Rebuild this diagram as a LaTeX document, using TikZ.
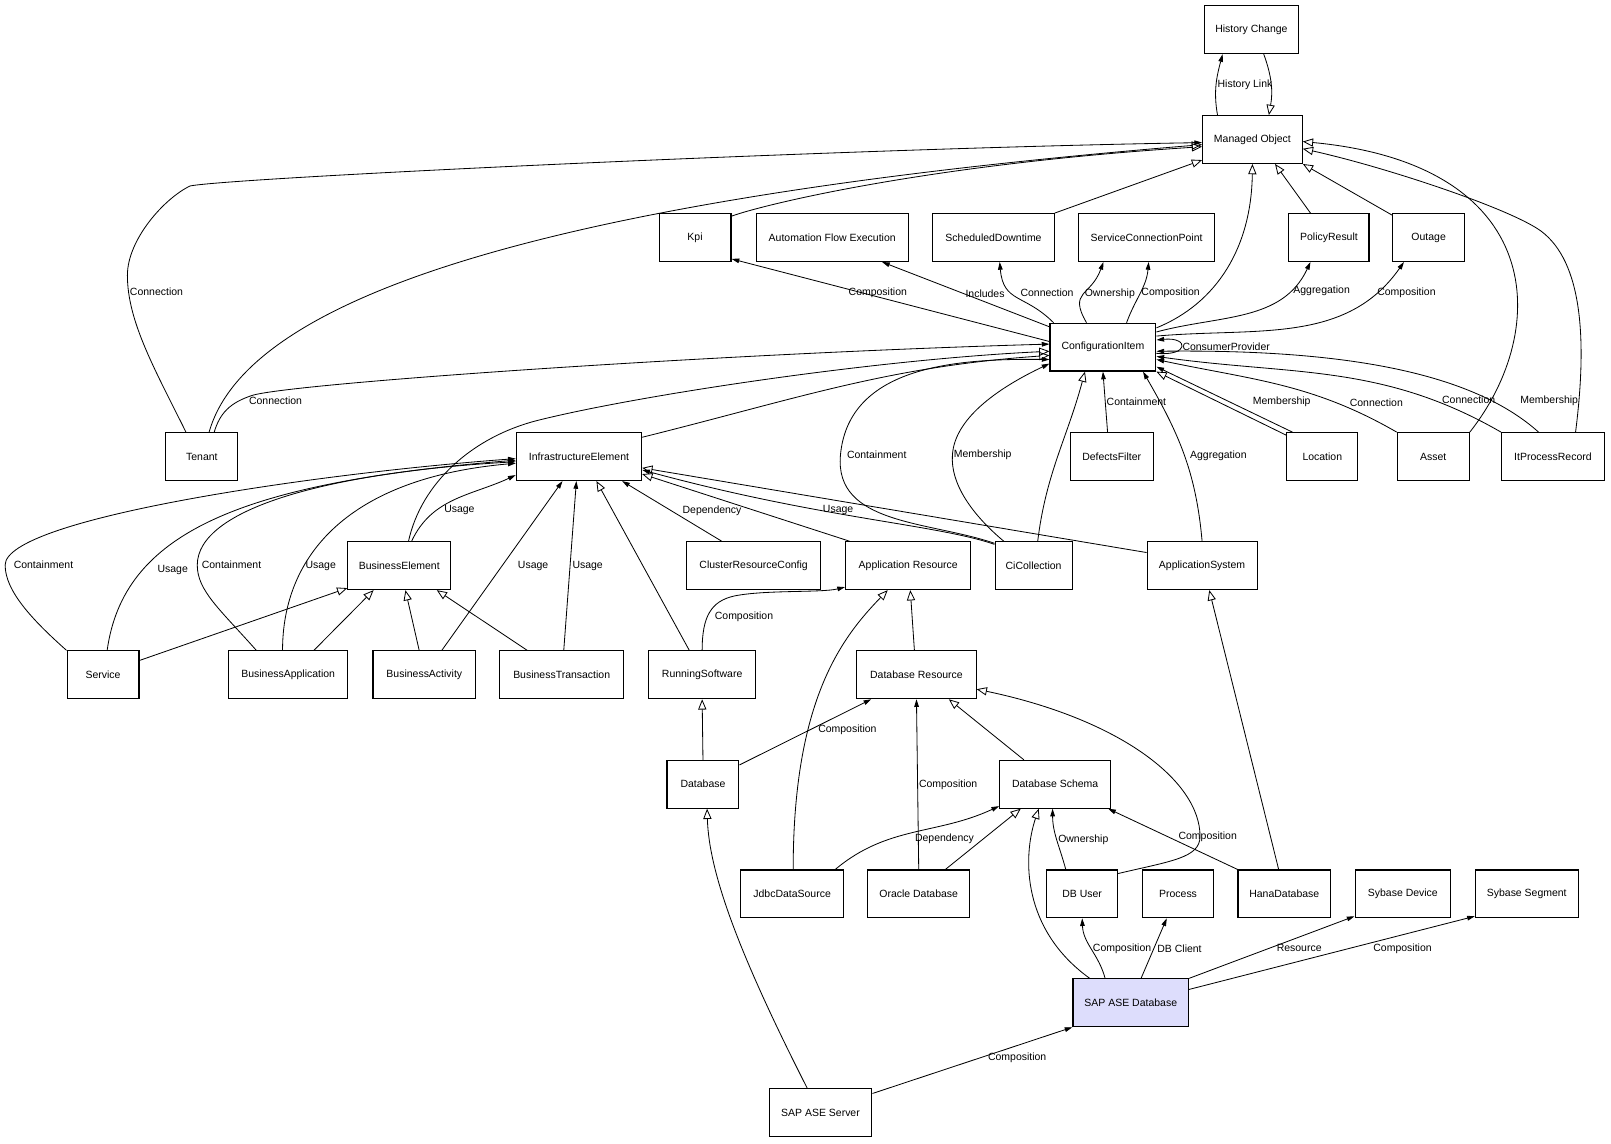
\documentclass[tikz,border=0pt]{standalone}
\usepackage{fontspec}
\setmainfont{Liberation Sans}
\usetikzlibrary{arrows.meta}
\definecolor{sadfill}{RGB}{221,221,252}
\begin{document}
\begin{tikzpicture}[x=1pt,y=1pt,
  cls/.style={draw,line width=1.1pt,minimum height=46.5pt,inner sep=1pt,font=\fontsize{10.2}{12}\selectfont},
  gen/.style={line width=0.8pt,-{Triangle[open,length=10pt,width=8pt]}},
  rel/.style={line width=0.8pt,-{Triangle[length=7.5pt,width=4.5pt]}},
  lbl/.style={font=\fontsize{10.2}{12}\selectfont,inner sep=1pt}]
\useasboundingbox (0,0) rectangle (1568,-1112.5);

\node[cls,minimum width=92pt] (hc) at (1218,-28.9) {History Change};
\node[cls,minimum width=97pt] (mo) at (1219,-135.8) {Managed Object};
\node[cls,minimum width=70pt] (kpi) at (676.5,-231.2) {Kpi};
\node[cls,minimum width=148pt] (afe) at (810,-231.2) {Automation Flow Execution};
\node[cls,minimum width=118pt] (sd) at (967,-231.2) {ScheduledDowntime};
\node[cls,minimum width=132pt] (scp) at (1116,-231.2) {ServiceConnectionPoint};
\node[cls,minimum width=78pt] (pr) at (1293.5,-231.2) {PolicyResult};
\node[cls,minimum width=70pt] (outage) at (1390.5,-231.2) {Outage};
\node[cls,minimum width=103pt] (ci) at (1073.5,-337.9) {ConfigurationItem};
\node[cls,minimum width=70pt] (tenant) at (196.5,-444.4) {Tenant};
\node[cls,minimum width=122pt] (ie) at (563.5,-444.4) {InfrastructureElement};
\node[cls,minimum width=81pt] (df) at (1082,-444.4) {DefectsFilter};
\node[cls,minimum width=69pt] (loc) at (1287,-444.4) {Location};
\node[cls,minimum width=70pt] (asset) at (1395,-444.4) {Asset};
\node[cls,minimum width=100pt] (ipr) at (1511.5,-444.4) {ItProcessRecord};
\node[cls,minimum width=100pt] (be) at (388.6,-550.6) {BusinessElement};
\node[cls,minimum width=131pt] (crc) at (733.5,-550.6) {ClusterResourceConfig};
\node[cls,minimum width=122pt] (ar) at (884,-550.6) {Application Resource};
\node[cls,minimum width=75pt] (cic) at (1006,-550.6) {CiCollection};
\node[cls,minimum width=107pt] (as) at (1170,-550.6) {ApplicationSystem};
\node[cls,minimum width=70pt] (svc) at (100.3,-656.8) {Service};
\node[cls,minimum width=116pt] (ba) at (280.5,-656.8) {BusinessApplication};
\node[cls,minimum width=100pt] (bac) at (413,-656.8) {BusinessActivity};
\node[cls,minimum width=121pt] (bt) at (546.7,-656.8) {BusinessTransaction};
\node[cls,minimum width=104pt] (rs) at (683.4,-656.8) {RunningSoftware};
\node[cls,minimum width=116pt] (dr) at (892,-656.8) {Database Resource};
\node[cls,minimum width=70pt] (db) at (684.2,-763.3) {Database};
\node[cls,minimum width=108pt] (ds) at (1027,-763.3) {Database Schema};
\node[cls,minimum width=100pt] (jds) at (771,-870) {JdbcDataSource};
\node[cls,minimum width=99pt] (od) at (894.2,-870) {Oracle Database};
\node[cls,minimum width=69pt] (dbu) at (1053.3,-870) {DB User};
\node[cls,minimum width=69pt] (proc) at (1146.6,-870) {Process};
\node[cls,minimum width=90pt] (hd) at (1250,-870) {HanaDatabase};
\node[cls,minimum width=93pt] (sdev) at (1365.4,-870) {Sybase Device};
\node[cls,minimum width=100pt] (sseg) at (1486,-870) {Sybase Segment};
\node[cls,minimum width=112.5pt,fill=sadfill] (sad) at (1100.6,-976) {SAP ASE Database};
\node[cls,minimum width=100pt] (sas) at (798.6,-1082.8) {SAP ASE Server};

\draw[rel] ([xshift=-34pt]mo.north) to[out=100,in=-105] node[lbl,anchor=west]{History Link} ([xshift=-28pt]hc.south);
\draw[gen] ([xshift=12pt]hc.south) to[out=-70,in=80] ([xshift=16pt]mo.north);
\draw[rel] ([xshift=-15.5pt]tenant.north) .. controls (151,-360) and (124,-313) .. (124,-268) node[lbl,anchor=west,pos=0.88]{Connection} .. controls (124,-233) and (160,-193) .. (185,-181) .. controls (225,-173) and (820,-144.5) .. ([yshift=-3pt]mo.west);
\draw[gen] ([xshift=7pt]tenant.north) .. controls (235,-310) and (450,-200) .. ([yshift=-5pt]mo.west);
\draw[gen] ([yshift=-3pt]kpi.north east) .. controls (740,-200) and (900,-160) .. ([yshift=-7pt]mo.west);
\draw[gen] (sd.north east) -- ([yshift=-20pt]mo.west);
\draw[gen] ([yshift=-5pt]ci.north east) .. controls (1185,-295) and (1218,-240) .. (mo.south);
\draw[gen] ([xshift=-18pt]pr.north) -- ([xshift=22pt]mo.south);
\draw[gen] ([yshift=-2pt]outage.north west) -- (mo.south east);
\draw[gen] (asset.north east) .. controls (1510,-320) and (1505,-160) .. ([yshift=-2pt]mo.east);
\draw[gen] ([xshift=22pt]ipr.north) .. controls (1545,-330) and (1540,-255) .. (1500,-225) .. controls (1470,-203) and (1348,-162.5) .. ([yshift=-9pt]mo.east);

\draw[rel] ([yshift=5.5pt]ci.west) -- node[lbl,pos=0.54,anchor=south,yshift=-2pt]{Composition} ([yshift=3pt]kpi.south east);
\draw[rel] ([yshift=-4pt]ci.north west) -- node[lbl,pos=0.51,anchor=west]{Includes} ([xshift=48.5pt]afe.south);
\draw[rel] ([xshift=4pt]ci.north west) to[out=135,in=-85,looseness=1.3] node[lbl,anchor=west,xshift=2pt,yshift=4pt]{Connection} ([xshift=6pt]sd.south);
\draw[rel] ([xshift=-16pt]ci.north) to[out=120,in=-110,looseness=1.5] node[lbl,anchor=west]{Ownership} ([xshift=-42pt]scp.south);
\draw[rel] ([xshift=23pt]ci.north) to[out=70,in=-95] node[lbl,anchor=west]{Composition} ([xshift=2pt]scp.south);
\draw[rel] ([yshift=-9pt]ci.north east) to[out=15,in=-115] node[lbl,anchor=west,pos=0.8,xshift=2pt]{Aggregation} ([xshift=-18pt]pr.south);
\draw[rel] ([yshift=-13pt]ci.north east) to[out=5,in=-125] node[lbl,anchor=west,pos=0.85]{Composition} ([xshift=-24pt]outage.south);
\draw[rel] ([yshift=-6pt]ci.east) .. controls +(32,-3) and +(32,3) .. ([yshift=7pt]ci.east) node[lbl,anchor=west,pos=0.5]{ConsumerProvider};

\draw[rel] ([xshift=12pt]tenant.north) .. controls (214,-402) and (224,-392) .. (245,-385) node[lbl,anchor=west,xshift=-4pt,yshift=-5pt]{Connection} .. controls (280,-373.3) and (700,-344) .. ([yshift=3pt]ci.west);
\draw[gen] ([xshift=9pt]be.north) .. controls (410,-470) and (460,-425) .. (524,-409) .. controls (620,-385) and (850,-350) .. ([yshift=-4pt]ci.west);
\draw[gen] ([yshift=-5pt]ie.north east) to[out=14,in=184] ([yshift=-8pt]ci.west);
\draw[rel] ([yshift=-2pt]cic.north west) .. controls (904,-507) and (812,-511) .. (818,-443) node[lbl,anchor=west,xshift=5pt]{Containment} .. controls (826,-355) and (934,-349) .. ([yshift=-12pt]ci.west);
\draw[rel] ([xshift=-29pt]cic.north) .. controls (945,-500) and (925,-470) .. (927,-443) node[lbl,anchor=west]{Membership} .. controls (929,-405) and (977,-375) .. ([yshift=-16pt]ci.west);
\draw[gen] ([xshift=4pt]cic.north) to[out=83,in=-105] ([xshift=-17.5pt]ci.south);
\draw[rel] ([xshift=-4pt]df.north) -- node[lbl,anchor=west]{Containment} (ci.south);
\draw[rel] (as.north) to[out=95,in=-60] node[lbl,anchor=west,pos=0.48,xshift=4pt]{Aggregation} ([xshift=39pt]ci.south);
\draw[gen] ([yshift=-3pt]loc.north west) -- (ci.south east);
\draw[rel] ([xshift=6pt]loc.north west) -- node[lbl,anchor=west,pos=0.46,xshift=21pt]{Membership} ([yshift=-19pt]ci.east);
\draw[rel] (asset.north west) to[out=150,in=-12] node[lbl,anchor=south west,pos=0.2]{Connection} ([yshift=-12pt]ci.east);
\draw[rel] (ipr.north west) to[out=150,in=-8] node[lbl,anchor=west,pos=0.2,xshift=8pt]{Connection} ([yshift=-9pt]ci.east);
\draw[rel] ([xshift=-14pt]ipr.north) .. controls (1430,-360) and (1300,-340) .. ([yshift=-4pt]ci.east) node[lbl,anchor=west,pos=0.16,xshift=18pt,yshift=4pt]{Membership};

\draw[rel] (svc.north west) .. controls (31,-603) and (5,-575) .. (5,-550) node[lbl,anchor=west,xshift=7pt]{Containment} .. controls (5,-505) and (303,-461) .. ([yshift=-2pt]ie.west);
\draw[rel] ([xshift=4pt]svc.north) .. controls (120,-520) and (230,-470) .. ([yshift=-3.5pt]ie.west) node[lbl,anchor=west,pos=0.27,xshift=13pt]{Usage};
\draw[rel] ([xshift=-31pt]ba.north) .. controls (214,-593) and (192,-575) .. (192,-550) node[lbl,anchor=west,xshift=3pt]{Containment} .. controls (192,-495) and (320,-460) .. ([yshift=-5pt]ie.west);
\draw[rel] ([xshift=-5.5pt]ba.north) .. controls (275,-540) and (340,-465) .. ([yshift=-6.5pt]ie.west) node[lbl,anchor=west,pos=0.32]{Usage};
\draw[rel] ([xshift=12pt]be.north) to[out=65,in=205] node[lbl,anchor=west,pos=0.32,xshift=6pt]{Usage} ([yshift=-18pt]ie.west);
\draw[rel] ([xshift=17pt]bac.north) -- node[lbl,anchor=west,xshift=14pt]{Usage} ([xshift=-16pt]ie.south);
\draw[rel] ([xshift=2pt]bt.north) -- node[lbl,anchor=west,xshift=1pt]{Usage} ([xshift=-2.5pt]ie.south);
\draw[gen] ([xshift=-12.5pt]rs.north) -- ([xshift=17pt]ie.south);
\draw[rel] ([xshift=-31pt]crc.north) -- node[lbl,anchor=west,xshift=9pt]{Dependency} ([xshift=42pt]ie.south);
\draw[gen] ([xshift=-57pt]ar.north) -- ([yshift=-17pt]ie.east);
\draw[rel] ([yshift=-3pt]cic.north west) .. controls (910,-510) and (800,-505) .. ([yshift=-13pt]ie.east) node[lbl,anchor=south,pos=0.57,yshift=-3pt]{Usage};
\draw[gen] ([yshift=-11pt]as.north west) -- ([yshift=-11pt]ie.east);

\draw[gen] ([yshift=14pt]svc.east) -- ([yshift=2pt]be.south west);
\draw[gen] ([xshift=25pt]ba.north) -- ([xshift=-25pt]be.south);
\draw[gen] ([xshift=-5pt]bac.north) -- ([xshift=6pt]be.south);
\draw[gen] ([xshift=-33.5pt]bt.north) -- ([xshift=36.5pt]be.south);

\draw[rel] (rs.north) .. controls (683.4,-600) and (692,-585) .. (715,-580) node[lbl,anchor=west,pos=0.42,xshift=6pt]{Composition} .. controls (745,-574) and (800,-577) .. ([yshift=3pt]ar.south west);
\draw[gen] ([xshift=-2pt]dr.north) -- ([xshift=2pt]ar.south);
\draw[gen] ([xshift=1pt]jds.north) .. controls (772,-680) and (820,-620) .. ([xshift=-20pt]ar.south);
\draw[gen] (db.north) -- (rs.south);
\draw[rel] ([yshift=-5pt]db.north east) -- node[lbl,anchor=west,pos=0.54,xshift=6pt]{Composition} ([xshift=-44pt]dr.south);
\draw[rel] (od.north) -- node[lbl,anchor=west]{Composition} (dr.south);
\draw[gen] ([xshift=-30.5pt]ds.north) -- ([xshift=31.5pt]dr.south);
\draw[gen] ([yshift=-4pt]dbu.north east) .. controls (1140,-838) and (1168,-835) .. (1168,-814) .. controls (1168,-760) and (1090,-700) .. ([yshift=-14pt]dr.east);

\draw[rel] ([xshift=42pt]jds.north) to[out=40,in=205] node[lbl,anchor=north west]{Dependency} ([yshift=2.5pt]ds.south west);
\draw[gen] ([xshift=26pt]od.north) -- ([xshift=-33.5pt]ds.south);
\draw[rel] ([xshift=-16pt]dbu.north) to[out=105,in=-90] node[lbl,anchor=west]{Ownership} ([xshift=-2.5pt]ds.south);
\draw[rel] (hd.north west) -- node[lbl,anchor=west,pos=0.53,xshift=8pt]{Composition} ([xshift=-3pt]ds.south east);
\draw[gen] ([xshift=-5.5pt]hd.north) -- ([xshift=7pt]as.south);

\draw[gen] ([xshift=-40pt]sad.north) .. controls (995,-905) and (995,-835) .. ([xshift=-16pt]ds.south);
\draw[rel] ([xshift=-25pt]sad.north) to[out=105,in=-88] node[lbl,anchor=west]{Composition} (dbu.south);
\draw[rel] ([xshift=10pt]sad.north) -- node[lbl,anchor=west,xshift=2pt]{DB Client} ([xshift=-11pt]proc.south);
\draw[rel] (sad.north east) -- node[lbl,anchor=west,pos=0.49,xshift=5pt]{Resource} ([yshift=2pt]sdev.south west);
\draw[rel] ([yshift=13pt]sad.east) -- node[lbl,anchor=north west,pos=0.64]{Composition} ([yshift=2pt]sseg.south west);
\draw[rel] ([yshift=18.5pt]sas.east) -- node[lbl,anchor=west,pos=0.535,xshift=7pt]{Composition} (sad.south west);
\draw[gen] ([xshift=-13pt]sas.north) .. controls (720,-930) and (690,-850) .. ([xshift=4pt]db.south);
\end{tikzpicture}
\end{document}
